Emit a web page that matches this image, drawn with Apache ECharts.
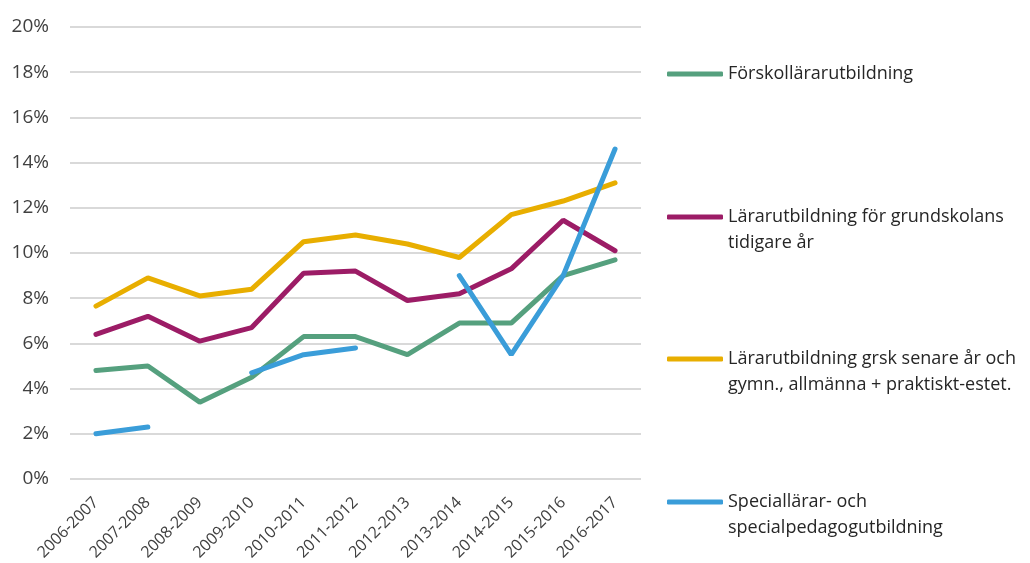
<!DOCTYPE html>
<html lang="sv">
<head>
    <meta charset="UTF-8">
    <title>Andel</title>
    <script src="https://cdn.jsdelivr.net/npm/echarts@6/dist/echarts.min.js"></script>
    <style>
        html, body { margin: 0; padding: 0; background: #fff; }
        #chart { width: 1030px; height: 563px; }
    </style>
</head>
<body>
<div id="chart"></div>

<script type="text/javascript">
    // kategorier (läsår)
    var years = ['2006-2007', '2007-2008', '2008-2009', '2009-2010', '2010-2011', '2011-2012',
                 '2012-2013', '2013-2014', '2014-2015', '2015-2016', '2016-2017'];

    var seriesNames = [
        'Förskollärarutbildning',
        'Lärarutbildning för grundskolans tidigare år',
        'Lärarutbildning grsk senare år och gymn., allmänna + praktiskt-estet.',
        'Speciallärar- och specialpedagogutbildning'
    ];

    // värden i procent
    var forskola  = [4.8, 5.0, 3.4, 4.5, 6.3, 6.3, 5.5, 6.9, 6.9, 9.0, 9.7];
    var tidigare  = [6.4, 7.2, 6.1, 6.7, 9.1, 9.2, 7.9, 8.2, 9.3, 11.45, 10.1];
    var senare    = [7.65, 8.9, 8.1, 8.4, 10.5, 10.8, 10.4, 9.8, 11.7, 12.3, 13.1];
    var special   = [2.0, 2.3, null, 4.7, 5.5, 5.8, null, 9.0, 5.5, 9.0, 14.6];

    var yTicks = [0, 2, 4, 6, 8, 10, 12, 14, 16, 18, 20];

    var colors = ['#55a07e', '#9c1c66', '#e8ae00', '#3a9dd9'];

    var chart = echarts.init(document.getElementById('chart'));

    function lineSeries(name, data, color) {
        return {
            name: name,
            type: 'line',
            data: data,
            showSymbol: false,
            connectNulls: false,
            color: color,
            lineStyle: { width: 5, color: color, cap: 'round' },
            emphasis: { disabled: true }
        };
    }

    // en legend per post så att de kan placeras fritt
    var legendIconY = [74, 217, 359, 502];
    var legendLines = [
        ['Förskollärarutbildning'],
        ['Lärarutbildning för grundskolans', 'tidigare år'],
        ['Lärarutbildning grsk senare år och', 'gymn., allmänna + praktiskt-estet.'],
        ['Speciallärar- och', 'specialpedagogutbildning']
    ];
    var lh = 26;

    var legends = seriesNames.map(function (name, i) {
        var lines = legendLines[i];
        // tom rad först så att ikonen hamnar vid första textraden
        var text = lines.length > 1 ? '\n' + lines.join('\n') : lines[0];
        var half = lines.length > 1 ? lh * 1.5 : lh / 2;
        return {
            data: [{ name: name, icon: 'roundRect' }],
            left: 667,
            top: legendIconY[i] - half,
            padding: 0,
            itemWidth: 56,
            itemHeight: 5,
            selectedMode: false,
            formatter: function () { return text; },
            textStyle: {
                fontFamily: 'Open Sans',
                fontSize: 18,
                color: '#262626',
                lineHeight: lh
            }
        };
    });

    var option = {
        animation: false,
        textStyle: { fontFamily: 'Open Sans' },
        grid: { left: 70, right: 389, top: 27, bottom: 84, outerBoundsMode: 'none' },
        legend: legends,
        xAxis: {
            type: 'category',
            data: years,
            boundaryGap: true,
            axisLine: { show: false },
            axisTick: { show: false },
            axisLabel: {
                rotate: 45,
                interval: 0,
                margin: 21,
                fontSize: 16,
                color: '#404040',
                fontFamily: 'Open Sans'
            }
        },
        yAxis: {
            type: 'value',
            min: yTicks[0],
            max: yTicks[yTicks.length - 1],
            interval: 2,
            axisLine: { show: false },
            axisTick: { show: false },
            axisLabel: {
                formatter: '{value}%',
                fontSize: 19,
                color: '#404040',
                margin: 21,
                fontFamily: 'Open Sans'
            },
            splitLine: { lineStyle: { color: '#d9d9d9', width: 2 } }
        },
        series: [
            lineSeries(seriesNames[0], forskola, colors[0]),
            lineSeries(seriesNames[1], tidigare, colors[1]),
            lineSeries(seriesNames[2], senare, colors[2]),
            lineSeries(seriesNames[3], special, colors[3])
        ]
    };

    chart.setOption(option);
</script>
</body>
</html>
